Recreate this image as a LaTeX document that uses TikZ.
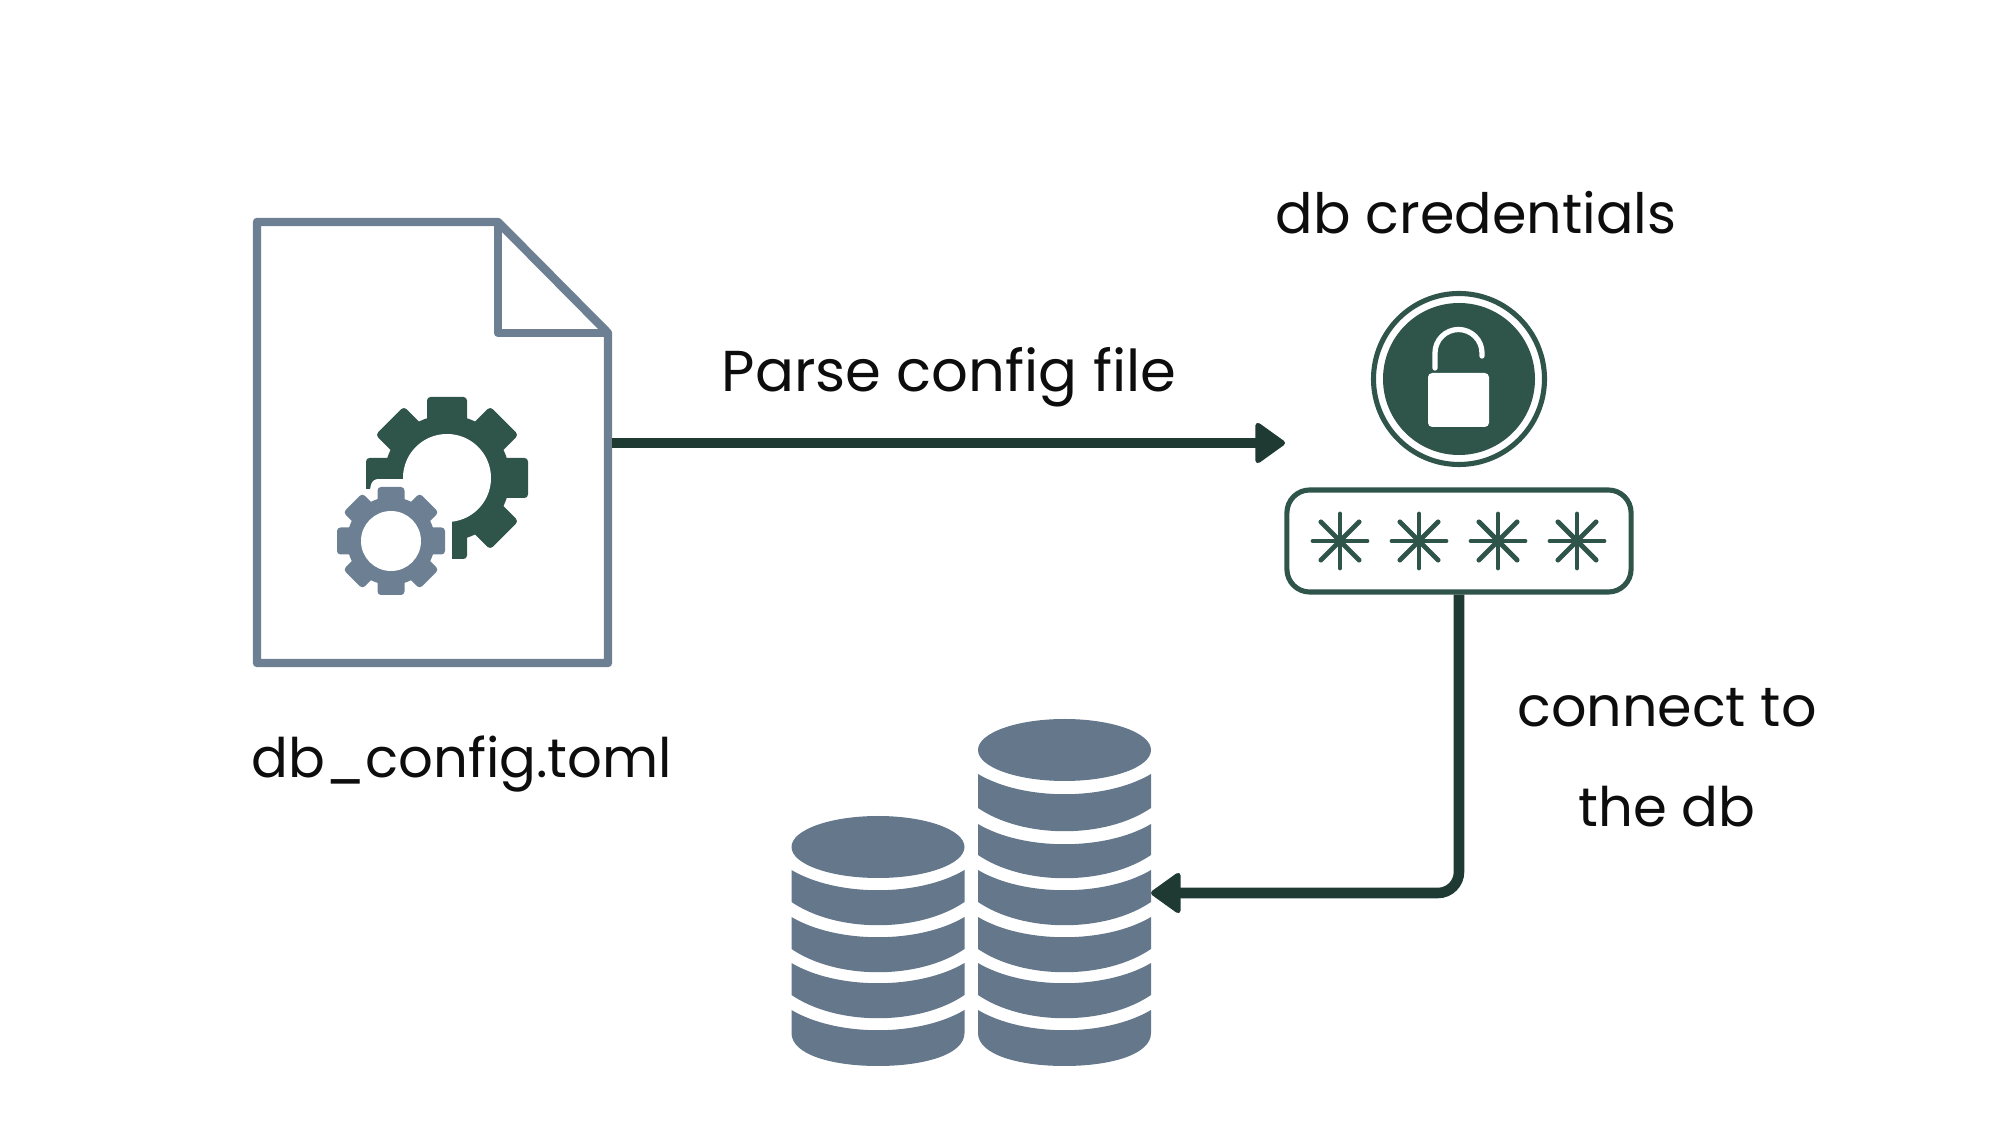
\documentclass[tikz,border=0pt]{standalone}
\usepackage{fontspec}
\setmainfont{Poppins}
\usetikzlibrary{arrows.meta}
\definecolor{slategrey}{HTML}{6C7F93}
\definecolor{dbgrey}{HTML}{64778B}
\definecolor{pinegreen}{HTML}{2F554A}
\definecolor{arrowdark}{HTML}{1E3A33}
\tikzset{
  flowarrow/.style={draw=arrowdark,line width=3pt,rounded corners=6pt,-{Triangle[length=9pt,width=12.5pt,line width=1.5pt,round]}},
  labeltext/.style={text=black!95,font=\fontsize{#1}{19}\selectfont,inner sep=0pt,anchor=base},
  labeltext/.default=15.5
}
\begin{document}
\begin{tikzpicture}[x=0.01cm,y=-0.01cm]
\newcommand\gearwheel[7]{
\foreach \a in {0,45,...,315}
  \fill[#7,rotate around={\a:(#1,#2)},rounded corners=1pt] (#1-#6,#2+5) rectangle (#1+#6,#2-#5);
\fill[#7] (#1,#2) circle[radius=#3];
\fill[white] (#1,#2) circle[radius=#4];
}
\newcommand\dbtop[2]{
\fill[dbgrey] (#1,#2) ellipse[x radius=86.5,y radius=31];
}
\newcommand\dbband[3]{
\fill[dbgrey] (#1-86.5,#2) .. controls (#1-41,#2+27) and (#1+41,#2+27) .. (#1+86.5,#2)
  -- (#1+86.5,#2+#3) .. controls (#1+41,#2+#3+31) and (#1-41,#2+#3+31) .. (#1-86.5,#2+#3) -- cycle;
}
\newcommand\dblast[2]{
\fill[dbgrey] (#1-86.5,#2) .. controls (#1-41,#2+27) and (#1+41,#2+27) .. (#1+86.5,#2)
  -- (#1+86.5,#2+23) .. controls (#1+86.5,#2+45) and (#1+45,#2+56) .. (#1,#2+56)
  .. controls (#1-45,#2+56) and (#1-86.5,#2+45) .. (#1-86.5,#2+23) -- cycle;
}
\newcommand\starmark[2]{
\foreach \a in {0,45,135,90}
  \draw[pinegreen,line width=1.4pt,line cap=round,rotate around={\a:(#1,#2)}] (#1-27,#2) -- (#1+27,#2);
}
\useasboundingbox (0,0) rectangle (1999,1125);

\draw[slategrey,line width=2.4pt,line join=round] (257,222) -- (498,222) -- (608,333) -- (608,663) -- (257,663) -- cycle;
\draw[slategrey,line width=2.4pt,line join=round] (498,222) -- (498,333) -- (608,333);
\begin{scope}
\clip (357,387) -- (537,387) -- (537,567) -- (452,567) -- (452,479) -- (377,479)
  .. controls (372,480) and (371,483) .. (370,489) -- (357,489) -- cycle;
\gearwheel{447}{478}{63}{44}{81}{20}{pinegreen}
\end{scope}
\gearwheel{391}{541}{44}{30}{54}{13.5}{slategrey}

\coordinate (fileport) at (612,443);
\coordinate (lockport) at (1285,443);
\coordinate (dbport) at (1151,893);
\coordinate (lockc) at (1459,379);
\draw[flowarrow] (fileport) -- (lockport);

\draw[pinegreen,line width=1.45pt] (lockc) circle[radius=85.5];
\fill[pinegreen] (lockc) circle[radius=76];
\draw[white,line width=1.5pt,line cap=round] (1435,368) -- (1435,353) arc[start angle=180,end angle=360,radius=23.5] -- (1482,356);
\fill[white,rounded corners=1.2pt] (1428,373) rectangle (1489,427);

\node[draw=pinegreen,line width=1.45pt,rounded corners=6.5pt,minimum width=3.44cm,minimum height=1.02cm,inner sep=0pt] (pwdbox) at (1459,541) {};
\starmark{1340}{541}
\starmark{1419}{541}
\starmark{1498}{541}
\starmark{1577}{541}
\draw[flowarrow] (pwdbox.south) |- (dbport);

\dbtop{878}{847}
\dbband{878}{870}{32}
\dbband{878}{917}{32}
\dbband{878}{963}{32}
\dblast{878}{1010}
\dbtop{1064.5}{750}
\dbband{1064.5}{774}{34}
\dbband{1064.5}{824}{31}
\dbband{1064.5}{870}{32}
\dbband{1064.5}{917}{32}
\dbband{1064.5}{963}{32}
\dblast{1064.5}{1010}

\node[labeltext] (filename) at (462,778) {db\_config.toml};
\node[labeltext=15.8] (credlabel) at (1476,234) {db credentials};
\node[labeltext=16.4] (parselabel) at (949,392) {Parse config file};
\node[labeltext=15.8] (connectlabel) at (1667,727) {connect to};
\node[labeltext] (dblabel) at (1667,827) {the db};
\end{tikzpicture}
\end{document}
